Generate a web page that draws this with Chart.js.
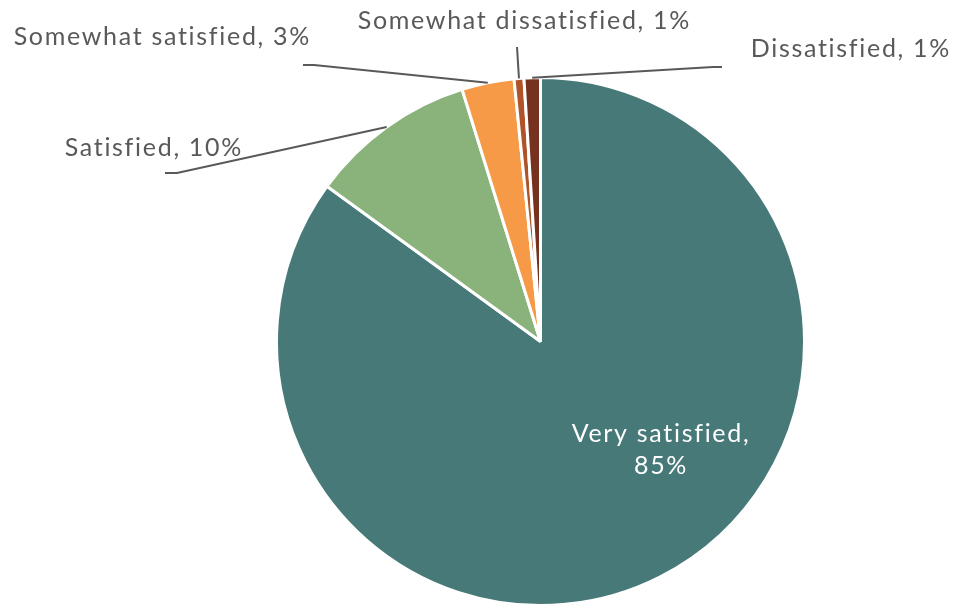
<!DOCTYPE html>
<html>
<head>
<meta charset="utf-8">
<script src="https://cdn.jsdelivr.net/npm/chart.js@4.4.1/dist/chart.umd.min.js"></script>
<style>
  html, body { margin: 0; padding: 0; background: #fff; }
  #wrap { width: 956px; height: 607px; }
</style>
</head>
<body>
<div id="wrap"><canvas id="satChart" width="956" height="607"></canvas></div>
<script>
// satisfaction survey shares, clockwise from 12 o'clock
const categories = ['Very satisfied', 'Satisfied', 'Somewhat satisfied', 'Somewhat dissatisfied', 'Dissatisfied'];
const shares = [85.0, 10.2, 3.2, 0.6, 1.0];
const sliceColors = ['#477978', '#8ab37b', '#f79a48', '#b0532a', '#76321f'];

// label placement: text anchor, leader elbow and leader end (inside = label sits on the slice)
const labelSpots = [
  { x: 661, y: 434, align: 'center', inside: true },
  { x: 243, y: 148, align: 'right', elbow: [177, 173], end: [165, 173] },
  { x: 311, y: 37, align: 'right', elbow: [314, 65], end: [303, 65] },
  { x: 691, y: 21, align: 'right', elbow: null, end: [517, 47] },
  { x: 951, y: 49, align: 'right', elbow: [713, 67], end: [722, 67] }
];

const FONT = '25px Lato, "Noto Sans", sans-serif';

const pieLabels = {
  id: 'pieLabels',
  afterDatasetsDraw(chart) {
    const ctx = chart.ctx;
    const arcs = chart.getDatasetMeta(0).data;
    ctx.save();
    ctx.font = FONT;
    ctx.letterSpacing = '1.7px';
    ctx.textBaseline = 'middle';
    arcs.forEach((arc, i) => {
      const spot = labelSpots[i];
      const pct = Math.round(shares[i]) + '%';
      if (spot.inside) {
        ctx.fillStyle = '#ffffff';
        ctx.textAlign = 'center';
        ctx.fillText(categories[i] + ',', spot.x, spot.y);
        ctx.fillText(pct, spot.x, spot.y + 32);
        return;
      }
      // leader line from the arc's outer edge at mid angle
      const mid = (arc.startAngle + arc.endAngle) / 2;
      const sx = arc.x + Math.cos(mid) * arc.outerRadius;
      const sy = arc.y + Math.sin(mid) * arc.outerRadius;
      ctx.strokeStyle = '#595959';
      ctx.lineWidth = 2;
      ctx.beginPath();
      ctx.moveTo(sx, sy);
      if (spot.elbow) ctx.lineTo(spot.elbow[0], spot.elbow[1]);
      ctx.lineTo(spot.end[0], spot.end[1]);
      ctx.stroke();
      ctx.fillStyle = '#595959';
      ctx.textAlign = spot.align;
      ctx.fillText(categories[i] + ', ' + pct, spot.x, spot.y);
    });
    ctx.restore();
  }
};

new Chart(document.getElementById('satChart'), {
  type: 'pie',
  data: {
    labels: categories,
    datasets: [{
      data: shares,
      backgroundColor: sliceColors,
      borderColor: '#ffffff',
      borderWidth: 3
    }]
  },
  options: {
    responsive: false,
    animation: false,
    layout: { padding: { top: 76, bottom: 0, left: 275, right: 150 } },
    plugins: {
      legend: { display: false },
      tooltip: { enabled: false }
    }
  },
  plugins: [pieLabels]
});
</script>
</body>
</html>
